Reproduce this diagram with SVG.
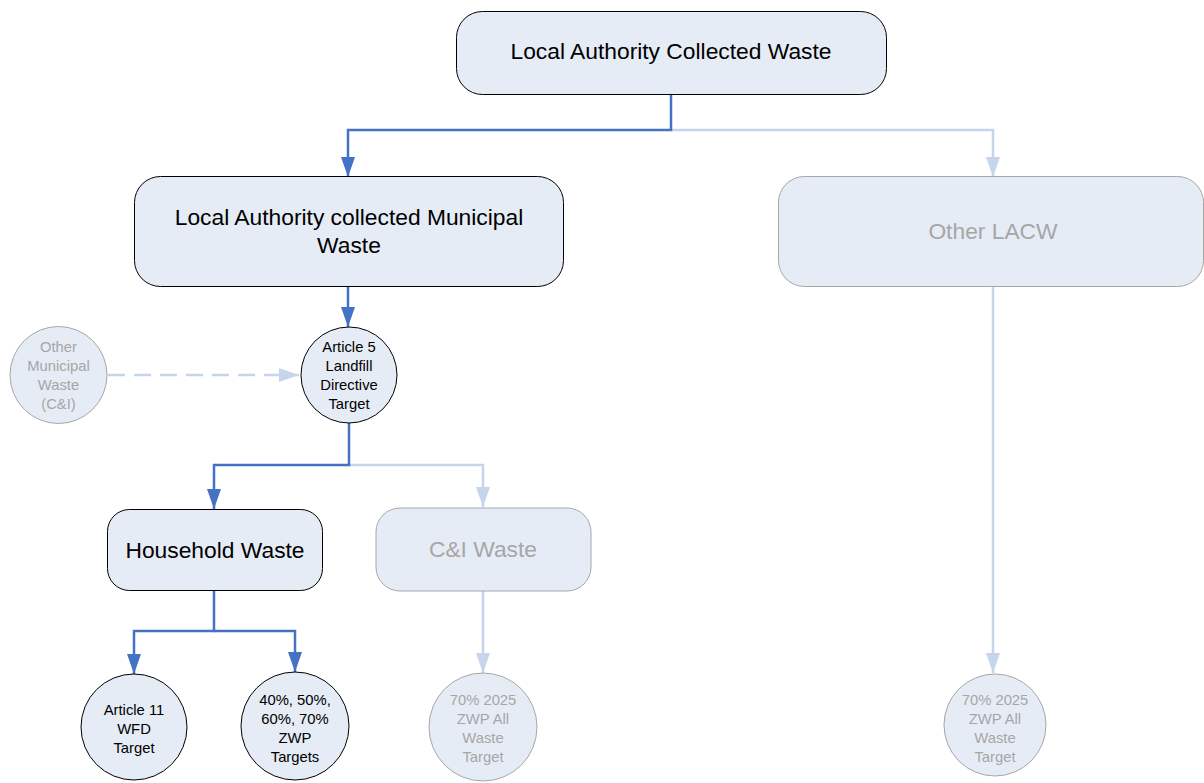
<svg xmlns="http://www.w3.org/2000/svg" width="1204" height="783" viewBox="0 0 1204 783">
<defs>
<marker id="ad" markerUnits="userSpaceOnUse" markerWidth="20" markerHeight="14" refX="20" refY="7" orient="auto" viewBox="0 0 20 14"><path d="M0,0 L20,7 L0,14 Z" fill="#4472C4"/></marker>
<marker id="al" markerUnits="userSpaceOnUse" markerWidth="20" markerHeight="14" refX="20" refY="7" orient="auto" viewBox="0 0 20 14"><path d="M0,0 L20,7 L0,14 Z" fill="#C6D5EC"/></marker>
<style>
text{font-family:"Liberation Sans",Arial,sans-serif;text-anchor:middle}
.n{fill:#E6ECF6;stroke:#000;stroke-width:1}
.f{fill:#E6ECF6;stroke:#A6A6A6;stroke-width:1}
.tb{font-size:22.8px;fill:#000}
.tf{font-size:22.8px;fill:#A6A6A6}
.cb{font-size:14.8px;fill:#000}
.cf{font-size:14.8px;fill:#A6A6A6}
.cd{fill:none;stroke:#4472C4;stroke-width:2.5}
.cl{fill:none;stroke:#C6D5EC;stroke-width:2.5}
</style>
</defs>
<rect width="1204" height="783" fill="#fff"/>
<g id="connectors">
<path class="cl" d="M671,130 H993 V177" marker-end="url(#al)"/>
<path class="cl" d="M349,465 H483 V507" marker-end="url(#al)"/>
<path class="cl" d="M483,591 V673" marker-end="url(#al)"/>
<path class="cl" d="M993,287 V673" marker-end="url(#al)"/>
<path class="cl" d="M108,375 H299" stroke-dasharray="17,9" marker-end="url(#al)"/>
<path class="cd" d="M671,94 V130 H348 V177" marker-end="url(#ad)"/>
<path class="cd" d="M348,287 V327" marker-end="url(#ad)"/>
<path class="cd" d="M349,423 V465 H214 V509" marker-end="url(#ad)"/>
<path class="cd" d="M214,590 V631 H134 V674" marker-end="url(#ad)"/>
<path class="cd" d="M214,631 H295 V672" marker-end="url(#ad)"/>
</g>
<g id="lacw">
<rect class="n" x="456.5" y="11.5" width="430" height="83" rx="26"/>
<text class="tb" x="671" y="59">Local Authority Collected Waste</text>
</g>
<g id="lacmw">
<rect class="n" x="134.5" y="176.5" width="429" height="110" rx="26"/>
<text class="tb" x="349" y="225">Local Authority collected Municipal</text>
<text class="tb" x="349" y="253">Waste</text>
</g>
<g id="other-lacw">
<rect class="f" x="778.5" y="176.5" width="425" height="110" rx="26"/>
<text class="tf" x="993" y="239">Other LACW</text>
</g>
<g id="other-municipal">
<circle class="f" cx="58.5" cy="375" r="48.5"/>
<text class="cf" x="58.5" y="352">Other</text>
<text class="cf" x="58.5" y="371">Municipal</text>
<text class="cf" x="58.5" y="390">Waste</text>
<text class="cf" x="58.5" y="409">(C&amp;I)</text>
</g>
<g id="article5">
<circle class="n" cx="349" cy="375" r="48"/>
<text class="cb" x="349" y="352">Article 5</text>
<text class="cb" x="349" y="371">Landfill</text>
<text class="cb" x="349" y="390">Directive</text>
<text class="cb" x="349" y="409">Target</text>
</g>
<g id="household">
<rect class="n" x="107.5" y="509.5" width="215" height="81" rx="22"/>
<text class="tb" x="215" y="558">Household Waste</text>
</g>
<g id="ci-waste">
<rect class="f" x="376" y="508" width="215" height="83" rx="24"/>
<text class="tf" x="483" y="557">C&amp;I Waste</text>
</g>
<g id="article11">
<circle class="n" cx="134" cy="727" r="53"/>
<text class="cb" x="134" y="715">Article 11</text>
<text class="cb" x="134" y="734">WFD</text>
<text class="cb" x="134" y="753">Target</text>
</g>
<g id="zwp-targets">
<circle class="n" cx="295" cy="726" r="54"/>
<text class="cb" x="295" y="705">40%, 50%,</text>
<text class="cb" x="295" y="724">60%, 70%</text>
<text class="cb" x="295" y="743">ZWP</text>
<text class="cb" x="295" y="762">Targets</text>
</g>
<g id="zwp-ci">
<circle class="f" cx="483" cy="727" r="54"/>
<text class="cf" x="483" y="705">70% 2025</text>
<text class="cf" x="483" y="724">ZWP All</text>
<text class="cf" x="483" y="743">Waste</text>
<text class="cf" x="483" y="762">Target</text>
</g>
<g id="zwp-other">
<circle class="f" cx="995" cy="725" r="51"/>
<text class="cf" x="995" y="705">70% 2025</text>
<text class="cf" x="995" y="724">ZWP All</text>
<text class="cf" x="995" y="743">Waste</text>
<text class="cf" x="995" y="762">Target</text>
</g>
</svg>
